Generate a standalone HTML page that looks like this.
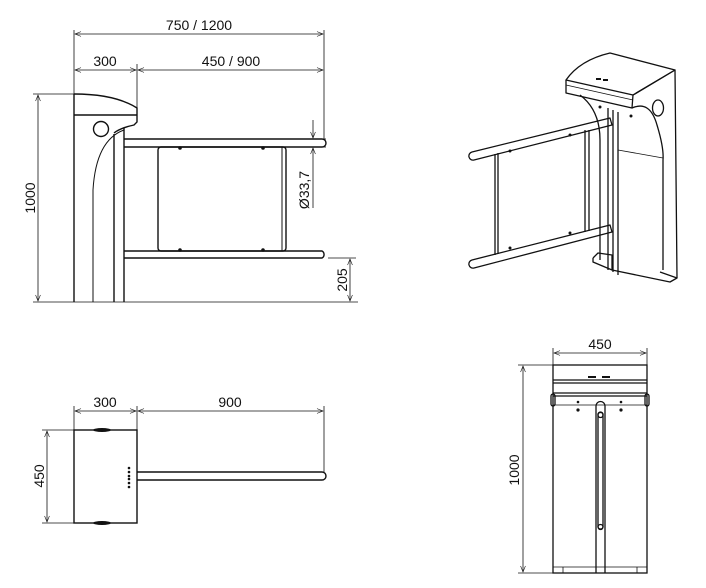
<!DOCTYPE html>
<html><head><meta charset="utf-8"><style>
html,body{margin:0;padding:0;background:#fff;}
svg{display:block}
text{font-family:"Liberation Sans",Arial,sans-serif;font-size:14px;fill:#111}
</style></head><body>
<svg width="706" height="588" viewBox="0 0 706 588" xmlns="http://www.w3.org/2000/svg">
<defs>
<marker id="a" viewBox="0 0 10 10" refX="10" refY="5" markerWidth="8" markerHeight="6" orient="auto-start-reverse" markerUnits="userSpaceOnUse"><path d="M0,1 L10,5 L0,9" fill="none" stroke="#111" stroke-width="1"/></marker>
</defs>
<g fill="none" stroke="#111" stroke-width="0.8">
<!-- Side view dimensions -->
<line x1="74" y1="30" x2="74" y2="94"/>
<line x1="324" y1="30" x2="324" y2="140"/>
<line x1="137" y1="64" x2="137" y2="108"/>
<line x1="75" y1="34" x2="323" y2="34" marker-start="url(#a)" marker-end="url(#a)"/>
<line x1="75" y1="70" x2="136" y2="70" marker-start="url(#a)" marker-end="url(#a)"/>
<line x1="138" y1="70" x2="323" y2="70" marker-start="url(#a)" marker-end="url(#a)"/>
<line x1="33" y1="94" x2="74" y2="94"/>
<line x1="38" y1="95" x2="38" y2="301" marker-start="url(#a)" marker-end="url(#a)"/>
<line x1="33" y1="302" x2="358" y2="302"/>
<line x1="328" y1="258" x2="356" y2="258"/>
<line x1="350" y1="259" x2="350" y2="301" marker-start="url(#a)" marker-end="url(#a)"/>
<line x1="313" y1="120" x2="313" y2="138" marker-end="url(#a)"/>
<line x1="313" y1="208" x2="313" y2="148" marker-end="url(#a)"/>
<line x1="326" y1="139" x2="316" y2="139"/>
<line x1="326" y1="147" x2="316" y2="147"/>
</g>
<text x="199" y="30" text-anchor="middle">750 / 1200</text>
<text x="105" y="66" text-anchor="middle">300</text>
<text x="231" y="66" text-anchor="middle">450 / 900</text>
<text transform="translate(35,198) rotate(-90)" text-anchor="middle">1000</text>
<text transform="translate(347,280) rotate(-90)" text-anchor="middle">205</text>
<text transform="translate(309,190) rotate(-90)" text-anchor="middle">Ø33,7</text>

<!-- Side view drawing -->
<g fill="none" stroke="#111" stroke-width="1.4">
<path d="M74,94 Q115,94 137,108 L137,122 L134,125 Q120,128 114,133"/>
<line x1="74" y1="94" x2="74" y2="302"/>
<line x1="74" y1="115" x2="137" y2="115"/>
<line x1="124" y1="128" x2="124" y2="302"/>
<line x1="114" y1="134" x2="114" y2="302"/>
<path d="M124,130 Q96,140 93,190 L93,302" stroke-width="1"/>
<circle cx="101" cy="129" r="7.5"/>
<path d="M124,139 L322,139 A4,4 0 0 1 322,147 L124,147"/>
<path d="M124,251 L322,251 A4,4 0 0 1 322,258 L124,258"/>
<rect x="158" y="147" width="128" height="104" rx="3"/>
<line x1="282" y1="147" x2="282" y2="251" stroke-width="1"/>
</g>
<g fill="#111"><circle cx="180" cy="148" r="1.8"/><circle cx="263" cy="148" r="1.8"/><circle cx="180" cy="250" r="1.8"/><circle cx="263" cy="250" r="1.8"/></g>

<!-- Top view -->
<g fill="none" stroke="#111" stroke-width="0.8">
<line x1="74" y1="406" x2="74" y2="430"/>
<line x1="137" y1="406" x2="137" y2="430"/>
<line x1="324" y1="406" x2="324" y2="472"/>
<line x1="75" y1="411" x2="136" y2="411" marker-start="url(#a)" marker-end="url(#a)"/>
<line x1="138" y1="411" x2="323" y2="411" marker-start="url(#a)" marker-end="url(#a)"/>
<line x1="42" y1="430" x2="74" y2="430"/>
<line x1="42" y1="523" x2="74" y2="523"/>
<line x1="47" y1="431" x2="47" y2="522" marker-start="url(#a)" marker-end="url(#a)"/>
</g>
<text x="105" y="407" text-anchor="middle">300</text>
<text x="230" y="407" text-anchor="middle">900</text>
<text transform="translate(44,476) rotate(-90)" text-anchor="middle">450</text>
<g fill="none" stroke="#111" stroke-width="1.4">
<rect x="74" y="430" width="63" height="93"/>
<path d="M137,472 L322,472 A4,4 0 0 1 322,480 L137,480"/>
</g>
<g fill="#111">
<ellipse cx="102" cy="430" rx="9" ry="2"/><ellipse cx="102" cy="523" rx="9" ry="2"/>
<circle cx="129" cy="468" r="1.3"/><circle cx="129" cy="472" r="1.3"/><circle cx="129" cy="476" r="1.3"/>
<circle cx="129" cy="479" r="1.3"/><circle cx="129" cy="483" r="1.3"/><circle cx="129" cy="487" r="1.3"/>
</g>

<!-- Front view -->
<g fill="none" stroke="#111" stroke-width="0.8">
<line x1="553" y1="348" x2="553" y2="365"/>
<line x1="647" y1="348" x2="647" y2="365"/>
<line x1="554" y1="353" x2="646" y2="353" marker-start="url(#a)" marker-end="url(#a)"/>
<line x1="518" y1="365" x2="553" y2="365"/>
<line x1="518" y1="573" x2="553" y2="573"/>
<line x1="523" y1="366" x2="523" y2="572" marker-start="url(#a)" marker-end="url(#a)"/>
</g>
<text x="600" y="349" text-anchor="middle">450</text>
<text transform="translate(519,470) rotate(-90)" text-anchor="middle">1000</text>
<g fill="none" stroke="#111" stroke-width="1.3">
<rect x="553" y="365" width="94" height="208"/>
<line x1="553" y1="380" x2="647" y2="380"/>
<line x1="553" y1="383" x2="647" y2="383"/>
<line x1="553" y1="393" x2="647" y2="393"/>
<line x1="553" y1="396" x2="647" y2="396"/>
<line x1="553" y1="405" x2="647" y2="405" stroke-width="0.8"/>
<rect x="551" y="394" width="4" height="12" rx="2"/>
<rect x="645" y="394" width="4" height="12" rx="2"/>
<path d="M596,573 L596,406 A4,4 0 0 1 605,406 L605,573"/>
<rect x="598" y="412" width="5" height="117" rx="2.5"/>
<circle cx="600.5" cy="415" r="2.5"/>
<circle cx="600.5" cy="527" r="2.5"/>
<line x1="553" y1="567" x2="647" y2="567" stroke-width="0.8"/>
<line x1="563" y1="567" x2="563" y2="573" stroke-width="0.8"/>
<line x1="637" y1="567" x2="637" y2="573" stroke-width="0.8"/>
</g>
<g fill="#111">
<circle cx="578" cy="410" r="1.6"/><circle cx="621" cy="410" r="1.6"/>
<circle cx="578" cy="402" r="1.3"/><circle cx="621" cy="402" r="1.3"/>
<rect x="588" y="376" width="8" height="2"/><rect x="602" y="376" width="8" height="2"/>
</g>

<!-- Isometric view -->
<g fill="none" stroke="#111" stroke-width="1.3" stroke-linejoin="round">
<path d="M566,80 Q580,60 610,53 L675,70 L633,95 L566,80 Z"/>
<path d="M566,80 L566,93 L632,108 L633,95"/>
<line x1="566" y1="85" x2="633" y2="100" stroke-width="0.8"/>
<path d="M633,95 L675,70 L677,278"/>
<path d="M632,108 Q650,100 657,125 Q664,148 663,160 L663,270"/>
<ellipse cx="658" cy="108" rx="5.5" ry="8"/>
<path d="M580,95 Q600,110 600,140 L600,260"/>
<line x1="608" y1="108" x2="608" y2="270"/>
<line x1="613" y1="110" x2="613" y2="272"/>
<line x1="618" y1="112" x2="618" y2="275"/>
<line x1="618" y1="150" x2="663" y2="158" stroke-width="0.8"/>
<path d="M472,152 L610,118 L612,125 L474,160 A4,4 0 0 1 472,152 Z"/>
<path d="M472,260 L610,225 L612,232 L474,268 A4,4 0 0 1 472,260 Z"/>
<line x1="495" y1="154" x2="495" y2="255"/>
<line x1="498" y1="153" x2="498" y2="254"/>
<line x1="585" y1="130" x2="585" y2="232"/>
<line x1="589" y1="130" x2="589" y2="231"/>
<path d="M593,258 L598,253 L612,255 L612,270 L670,282 L677,278 L660,272"/>
<path d="M593,258 L593,262 L612,270"/>
</g>
<g fill="#111">
<circle cx="510" cy="151" r="1.5"/><circle cx="570" cy="135" r="1.5"/>
<circle cx="510" cy="248" r="1.5"/><circle cx="570" cy="233" r="1.5"/>
<rect x="596" y="78" width="5" height="2"/><rect x="603" y="79" width="5" height="2"/>
<circle cx="600" cy="107" r="1.5"/><circle cx="631" cy="116" r="1.5"/>
</g>
</svg>
</body></html>
